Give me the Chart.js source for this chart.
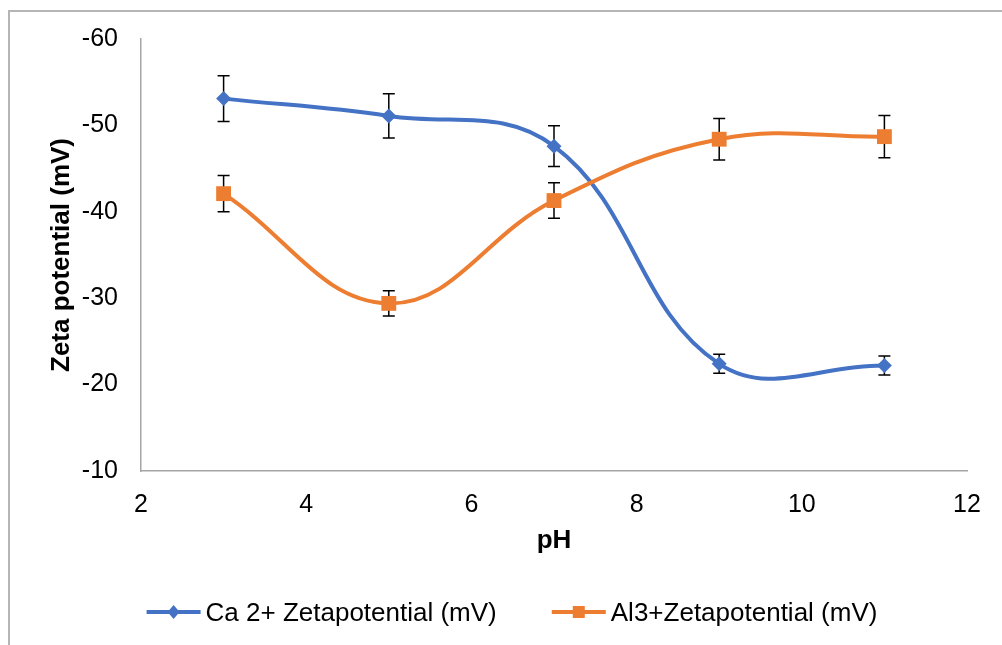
<!DOCTYPE html>
<html>
<head>
<meta charset="utf-8">
<title>Zeta potential vs pH</title>
<script src="https://cdn.jsdelivr.net/npm/chart.js@4.4.1/dist/chart.umd.min.js"></script>
<style>
    html, body { margin: 0; padding: 0; background: #fff; }
    #wrap { position: relative; width: 1002px; height: 645px; overflow: hidden; }
    #frame { position: absolute; left: 8px; top: 10px; width: 1100px; height: 700px;
             border-left: 2px solid #b5b5b5; border-top: 2px solid #b5b5b5; }
    #zeta_chart { position: absolute; left: 0; top: 0; }
</style>
</head>
<body>
<div id="wrap">
    <div id="frame"></div>
    <canvas id="zeta_chart" width="1002" height="645"></canvas>
</div>
<script>
// pH values and measured zeta potential (mV) with error bar half-widths
var phValues = [3, 5, 7, 9, 11];
var caZeta = [-53.1, -51.1, -47.6, -22.4, -22.2];
var caError = [2.65, 2.55, 2.35, 1.1, 1.1];
var alZeta = [-42.1, -29.4, -41.3, -48.4, -48.7];
var alError = [2.1, 1.45, 2.05, 2.4, 2.45];
var seriesLabels = ['Ca 2+ Zetapotential (mV)', 'Al3+Zetapotential (mV)'];
var xRange = [2, 12];
var yRange = [-60, -10];

var FONT = '"Liberation Sans", Arial, sans-serif';

function toPoints(xs, ys) {
    return xs.map(function (x, i) { return { x: x, y: ys[i] }; });
}

// error bars drawn under the lines and markers
var errorBarPlugin = {
    id: 'errorBars',
    beforeDatasetsDraw: function (chart) {
        var ctx = chart.ctx;
        var xScale = chart.scales.x;
        var yScale = chart.scales.y;
        ctx.save();
        ctx.strokeStyle = '#000';
        ctx.lineWidth = 1.5;
        chart.data.datasets.forEach(function (ds) {
            ds.data.forEach(function (pt, i) {
                var x = xScale.getPixelForValue(pt.x);
                var top = yScale.getPixelForValue(pt.y - ds.errors[i]);
                var bottom = yScale.getPixelForValue(pt.y + ds.errors[i]);
                ctx.beginPath();
                ctx.moveTo(x, top); ctx.lineTo(x, bottom);
                ctx.moveTo(x - 6, top); ctx.lineTo(x + 6, top);
                ctx.moveTo(x - 6, bottom); ctx.lineTo(x + 6, bottom);
                ctx.stroke();
            });
        });
        ctx.restore();
    }
};

// legend with a line segment and marker for each series
var lineLegendPlugin = {
    id: 'lineLegend',
    afterDraw: function (chart) {
        var ctx = chart.ctx;
        var sets = chart.data.datasets.slice().sort(function (a, b) { return a.legendIndex - b.legendIndex; });
        var lineLen = 54, textGap = 5, itemGap = 55;
        ctx.save();
        ctx.font = '26px ' + FONT;
        var widths = sets.map(function (ds) { return ctx.measureText(ds.label).width; });
        var total = itemGap * (sets.length - 1);
        widths.forEach(function (w) { total += lineLen + textGap + w; });
        var x = 512 - total / 2;
        var y = 612;
        sets.forEach(function (ds, i) {
            ctx.strokeStyle = ds.borderColor;
            ctx.fillStyle = ds.borderColor;
            ctx.lineWidth = 4;
            ctx.beginPath();
            ctx.moveTo(x, y); ctx.lineTo(x + lineLen, y);
            ctx.stroke();
            var cx = x + lineLen / 2;
            ctx.beginPath();
            if (ds.pointStyle === 'rectRot') {
                ctx.moveTo(cx, y - 7); ctx.lineTo(cx + 6, y);
                ctx.lineTo(cx, y + 7); ctx.lineTo(cx - 6, y);
                ctx.closePath();
            } else {
                ctx.rect(cx - 6, y - 6, 12, 12);
            }
            ctx.fill();
            ctx.fillStyle = '#000';
            ctx.textBaseline = 'alphabetic';
            ctx.fillText(ds.label, x + lineLen + textGap, y + 9);
            x += lineLen + textGap + widths[i] + itemGap;
        });
        ctx.restore();
    }
};

var ctx = document.querySelector('#zeta_chart').getContext('2d');
var zetaChart = new Chart(ctx, {
    type: 'scatter',
    data: {
        datasets: [{
            label: seriesLabels[0],
            legendIndex: 0,
            data: toPoints(phValues, caZeta),
            errors: caError,
            showLine: true,
            borderColor: '#4472C4',
            backgroundColor: '#4472C4',
            borderWidth: 4,
            tension: 0.4,
            pointStyle: 'rectRot',
            pointRadius: 7.5,
            pointBorderWidth: 0,
            order: 1
        }, {
            label: seriesLabels[1],
            legendIndex: 1,
            data: toPoints(phValues, alZeta),
            errors: alError,
            showLine: true,
            borderColor: '#ED7D31',
            backgroundColor: '#ED7D31',
            borderWidth: 4,
            tension: 0.4,
            pointStyle: 'rect',
            pointRadius: 10.5,
            pointBorderWidth: 0,
            order: 0
        }]
    },
    options: {
        responsive: false,
        animation: false,
        layout: { padding: { left: 8, top: 39, right: 35, bottom: 74 } },
        plugins: {
            legend: { display: false },
            tooltip: { enabled: false }
        },
        scales: {
            x: {
                type: 'linear',
                min: xRange[0],
                max: xRange[1],
                afterFit: function (scale) { scale.height = 100; },
                ticks: { stepSize: 2, color: '#000', padding: 13, font: { family: FONT, size: 25 } },
                grid: { display: false, drawTicks: true, tickLength: 6, tickColor: '#a6a6a6', tickWidth: 1.5 },
                border: { color: '#a6a6a6', width: 1.5 },
                title: { display: true, text: 'pH', color: '#000', padding: { top: 0, bottom: 15 },
                         font: { family: FONT, size: 26, weight: 'bold' } }
            },
            y: {
                min: yRange[0],
                max: yRange[1],
                reverse: true,
                afterFit: function (scale) { scale.width = 133; },
                ticks: { stepSize: 10, color: '#000', padding: 15, font: { family: FONT, size: 25 } },
                grid: { display: false, drawTicks: true, tickLength: 8, tickColor: '#a6a6a6', tickWidth: 1.5 },
                border: { color: '#a6a6a6', width: 1.5 },
                title: { display: true, text: 'Zeta potential (mV)', color: '#000', padding: { top: 38, bottom: 0 },
                         font: { family: FONT, size: 26, weight: 'bold' } }
            }
        }
    },
    plugins: [errorBarPlugin, lineLegendPlugin]
});
</script>
</body>
</html>
